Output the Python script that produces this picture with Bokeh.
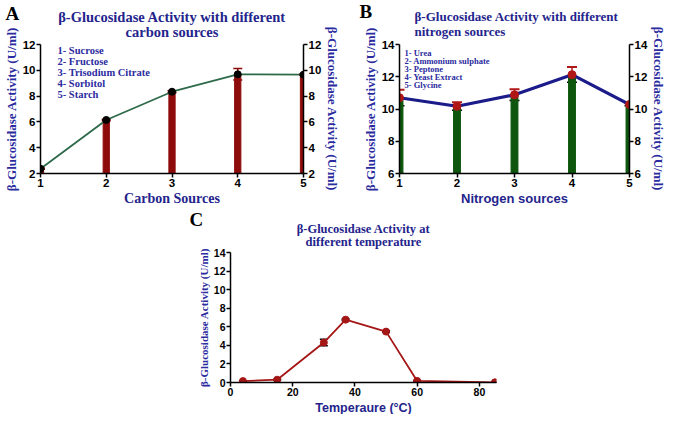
from bokeh.plotting import figure
from bokeh.models import (Range1d, LinearAxis, FixedTicker, Title, Label, Whisker,
                          ColumnDataSource, TeeHead, Spacer)
from bokeh.layouts import row, column
from bokeh.embed import file_html
from bokeh.resources import INLINE

# ---------------- data ----------------
carbon_x = [1, 2, 3, 4, 5]
carbon_names = ["Sucrose", "Fructose", "Trisodium Citrate", "Sorbitol", "Starch"]
carbon_act = [2.37, 6.15, 8.34, 9.69, 9.66]
carbon_err = [0.05, 0.06, 0.08, 0.44, 0.05]

nitrogen_x = [1, 2, 3, 4, 5]
nitrogen_names = ["Urea", "Ammonium sulphate", "Peptone", "Yeast Extract", "Glycine"]
nitrogen_act = [10.70, 10.17, 10.88, 12.13, 10.28]
nitrogen_err = [0.50, 0.25, 0.35, 0.47, 0.08]

temp_c = [4, 15, 30, 37, 50, 60, 85]
temp_act = [0.15, 0.30, 4.30, 6.77, 5.48, 0.17, 0.02]
temp_err = [0.05, 0.05, 0.35, 0.08, 0.08, 0.05, 0.02]

source_ticks = [1, 2, 3, 4, 5]
a_yticks = [2, 4, 6, 8, 10, 12]
b_yticks = [6, 8, 10, 12, 14]
c_yticks = [0, 2, 4, 6, 8, 10, 12, 14]
c_xticks = [0, 20, 40, 60, 80]

YLABEL = "β-Glucosidase Activity (U/ml)"

NAVY = "#24248C"
LBLUE = "#2B2BA0"
SERIF = "Liberation Serif"
SANS = "Liberation Sans"


def make_fig(w, h, xr, yr, left, right, top, bottom):
    p = figure(width=w, height=h, x_range=xr, y_range=yr,
               output_backend="svg", toolbar_location=None,
               min_border_left=left, min_border_right=right,
               min_border_top=top, min_border_bottom=bottom)
    p.xgrid.visible = False
    p.ygrid.visible = False
    p.outline_line_color = None
    return p


def style_axis(ax, label, font, size, color, tick_size, ticks):
    if label:
        ax.axis_label = label
        ax.axis_label_text_font = font
        ax.axis_label_text_font_size = size
        ax.axis_label_text_font_style = "bold"
        ax.axis_label_text_color = color
        ax.axis_label_standoff = 1
    ax.major_label_text_font = SANS
    ax.major_label_text_font_style = "bold"
    ax.major_label_text_font_size = tick_size
    ax.major_label_text_color = "black"
    ax.major_label_standoff = 1
    ax.axis_line_width = 1.5
    ax.axis_line_color = "black"
    ax.major_tick_line_width = 1.5
    ax.major_tick_line_color = "black"
    ax.major_tick_out = 4
    ax.major_tick_in = 0
    ax.minor_tick_line_color = None
    ax.ticker = FixedTicker(ticks=ticks)


def title_line(p, text, font_size, align, offset, standoff, side="above",
               font=SERIF):
    p.add_layout(Title(text=text, align=align, offset=offset, standoff=standoff,
                       text_font=font, text_font_size=font_size, text_line_height=1.0,
                       text_font_style="bold", text_color=NAVY), side)


def panel_letter(p, letter, offset, standoff):
    p.add_layout(Title(text=letter, align="left", offset=offset, standoff=standoff,
                       text_font=SERIF, text_font_size="19px", text_font_style="bold",
                       text_color="black"), "above")


def legend_lines(p, names, x, y0, step, size):
    for i, nm in enumerate(names):
        p.add_layout(Label(x=x, y=y0 - i * step, x_units="screen", y_units="data",
                           text=f"{i + 1}- {nm}", text_font=SERIF, text_font_size=size,
                           text_font_style="bold", text_color=LBLUE,
                           text_baseline="middle", text_align="left"))


# ---------------- panel A ----------------
pa = make_fig(343, 208, Range1d(1, 5), Range1d(2, 12), 34, 40, 36, 20)
pa.extra_y_ranges = {"r": Range1d(2, 12)}
pa.add_layout(LinearAxis(y_range_name="r"), "right")
style_axis(pa.xaxis[0], "Carbon Sources", SERIF, "14px", NAVY, "11.5px", source_ticks)
style_axis(pa.yaxis[0], YLABEL, SERIF, "13px", LBLUE, "11.5px", a_yticks)
style_axis(pa.yaxis[1], YLABEL, SERIF, "13px", LBLUE, "11.5px", a_yticks)
title_line(pa, "carbon sources", "14.5px", "center", 0, 10)
title_line(pa, "β-Glucosidase Activity with different", "14.5px", "center", 0, -17)
panel_letter(pa, "A", -35, -16)

srcA = ColumnDataSource(dict(x=carbon_x, y=carbon_act,
                             up=[a + e for a, e in zip(carbon_act, carbon_err)],
                             lo=[a - e for a, e in zip(carbon_act, carbon_err)]))
pa.vbar(x="x", top="y", bottom=2, width=0.095, source=srcA, fill_color="#8E0B0B",
        line_color="#8E0B0B")
pa.add_layout(Whisker(source=srcA, base="x", upper="up", lower="lo",
                      line_color="#8E0B0B", line_width=1.5,
                      upper_head=TeeHead(size=9, line_color="#8E0B0B", line_width=1.5),
                      lower_head=TeeHead(size=9, line_color="#8E0B0B", line_width=1.5)))
pa.line(x="x", y="y", source=srcA, line_color="#2D6A4A", line_width=1.8)
pa.scatter(x="x", y="y", source=srcA, size=7, fill_color="black", line_color="black")
legend_lines(pa, carbon_names, 17, 11.55, 0.86, "10.5px")

# ---------------- panel B ----------------
pb = make_fig(326, 208, Range1d(1, 5), Range1d(6, 14), 56, 30, 42, 20)
pb.extra_y_ranges = {"r": Range1d(6, 14)}
pb.add_layout(LinearAxis(y_range_name="r"), "right")
style_axis(pb.xaxis[0], "Nitrogen sources", SANS, "13px", NAVY, "11.5px", source_ticks)
style_axis(pb.yaxis[0], YLABEL, SERIF, "13px", LBLUE, "11.5px", b_yticks)
style_axis(pb.yaxis[1], YLABEL, SERIF, "13px", LBLUE, "11.5px", b_yticks)
title_line(pb, "β-Glucosidase Activity with different\nnitrogen sources", "13px",
           "left", 15, 12)
panel_letter(pb, "B", -40, -42)

srcB = ColumnDataSource(dict(x=nitrogen_x, y=nitrogen_act,
                             up=[a + e for a, e in zip(nitrogen_act, nitrogen_err)],
                             lo=[a - e for a, e in zip(nitrogen_act, nitrogen_err)]))
pb.vbar(x="x", top="y", bottom=6, width=0.12, source=srcB, fill_color="#0E560E",
        line_color="#0E560E")
pb.add_layout(Whisker(source=srcB, base="x", upper="up", lower="lo",
                      line_color="#B01818", line_width=1.5,
                      upper_head=TeeHead(size=10, line_color="#B01818", line_width=2),
                      lower_head=TeeHead(size=10, line_color="black", line_width=1.5)))
pb.line(x="x", y="y", source=srcB, line_color="#1B1B8A", line_width=3.2)
pb.scatter(x="x", y="y", source=srcB, size=8, fill_color="#B01818", line_color="#B01818")
legend_lines(pb, nitrogen_names, 5, 13.5, 0.51, "8.5px")

# ---------------- panel C ----------------
pc = make_fig(330, 206, Range1d(0, 85.5), Range1d(0, 14), 44, 20, 32, 20)
style_axis(pc.xaxis[0], None, SANS, "12.5px", NAVY, "10.5px", c_xticks)
style_axis(pc.yaxis[0], YLABEL, SERIF, "11px", LBLUE, "10.5px", c_yticks)
title_line(pc, "Temperaure (°C)", "12.5px", "center", 0, 0, side="below", font=SANS)
title_line(pc, "different temperature", "12.5px", "center", 0, 8)
title_line(pc, "β-Glucosidase Activity at", "12.5px", "center", 0, -15)
panel_letter(pc, "C", -41, -4)

srcC = ColumnDataSource(dict(x=temp_c, y=temp_act,
                             up=[a + e for a, e in zip(temp_act, temp_err)],
                             lo=[a - e for a, e in zip(temp_act, temp_err)]))
pc.line(x="x", y="y", source=srcC, line_color="#A51616", line_width=1.8)
pc.add_layout(Whisker(source=srcC, base="x", upper="up", lower="lo",
                      line_color="black", line_width=1.5,
                      upper_head=TeeHead(size=8, line_color="black", line_width=1.5),
                      lower_head=TeeHead(size=8, line_color="black", line_width=1.5)))
pc.scatter(x="x", y="y", source=srcC, size=7, fill_color="#A51616", line_color="#A51616")

layout = column(row(pa, pb), row(Spacer(width=186, height=10), pc))

open("out.html", "w").write(file_html(layout, INLINE))
